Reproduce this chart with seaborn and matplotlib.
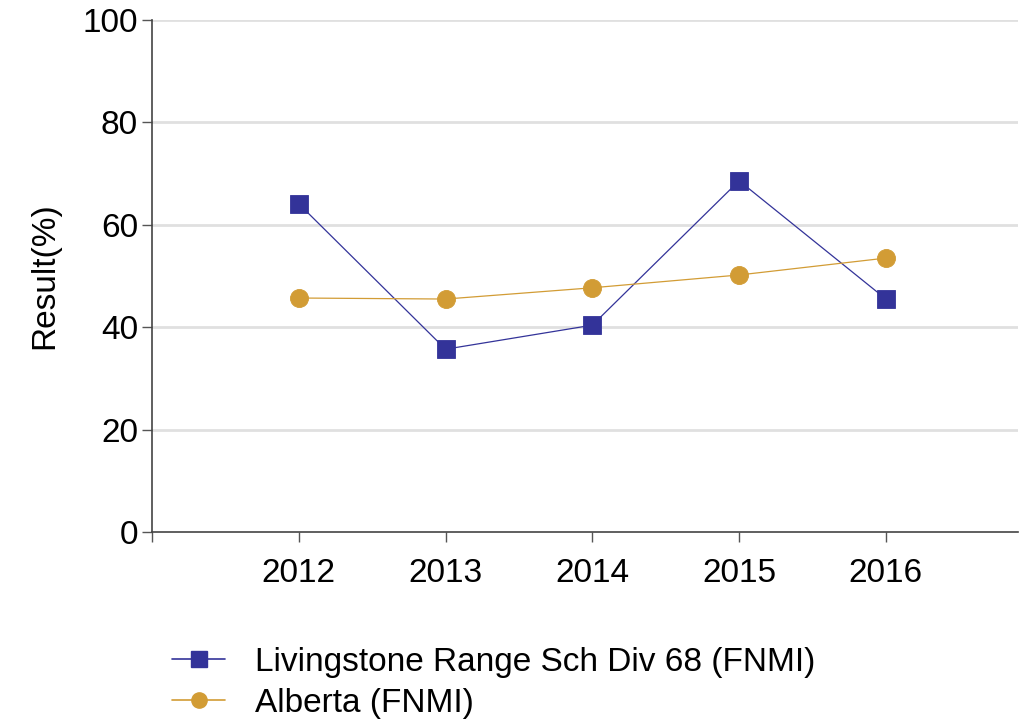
import matplotlib
matplotlib.use("Agg")
import matplotlib.pyplot as plt
import seaborn as sns
import pandas as pd

years = [2012, 2013, 2014, 2015, 2016]
livingstone = [64.1, 35.7, 40.4, 68.6, 45.5]
alberta = [45.7, 45.5, 47.7, 50.2, 53.5]
series_names = ["Livingstone Range Sch Div 68 (FNMI)", "Alberta (FNMI)"]
y_ticks = [0, 20, 40, 60, 80, 100]

df = pd.DataFrame({
    "Year": years * 2,
    "Result": livingstone + alberta,
    "Series": [series_names[0]] * len(years) + [series_names[1]] * len(years),
})

sns.set_theme(style="white")
plt.rcParams['font.family'] = ['Liberation Sans', 'DejaVu Sans']
plt.rcParams['text.color'] = 'black'

fig = plt.figure(figsize=(10.21, 7.23), dpi=100)
ax = fig.add_axes([152/1021, 1-532/723, (1018-152)/1021, (532-20)/723])

palette = {series_names[0]: "#333399", series_names[1]: "#D29C35"}
markers = {series_names[0]: "s", series_names[1]: "o"}
sns.lineplot(data=df, x="Year", y="Result", hue="Series", style="Series",
             palette=palette, markers=markers, dashes=False, markersize=13,
             linewidth=0.9, markeredgewidth=0.6, ax=ax, legend=False)
for line in ax.lines:
    line.set_markeredgecolor(line.get_color())

ax.set_ylim(0, 100)
ax.set_xlim(2011, 2016.9)
ax.set_yticks(y_ticks)
ax.set_yticklabels([str(v) for v in y_ticks], fontsize=24)
ax.set_xticks([2011] + years)
ax.set_xticklabels([""] + [str(y) for y in years], fontsize=24)
for y in y_ticks[1:]:
    ax.axhline(y, color="#E0E0E0", linewidth=2, zorder=0)
ax.tick_params(axis="both", which="both", direction="out", length=7, width=1,
               color="#555555", labelcolor="black", bottom=True, left=True)
ax.tick_params(axis="x", pad=12)
ax.tick_params(axis="y", pad=3)
for s in ["top", "right"]:
    ax.spines[s].set_visible(False)
for s in ["left", "bottom"]:
    ax.spines[s].set_color("#444444")
    ax.spines[s].set_linewidth(1.2)
ax.set_xlabel("")
ax.set_ylabel("Result(%)", fontsize=24, labelpad=16, color="black")

from matplotlib.lines import Line2D
handles = [
    Line2D([0], [0], color="#333399", marker="s", markersize=11, linewidth=1.2),
    Line2D([0], [0], color="#D29C35", marker="o", markersize=11, linewidth=1.2),
]
leg = fig.legend(handles, series_names, loc="center left",
                 bbox_to_anchor=(142/1021, 1-683/723), frameon=False, fontsize=24,
                 handlelength=1.6, handletextpad=0.9, labelspacing=0.3)
for t in leg.get_texts():
    t.set_color("black")

fig.savefig("out.png", dpi=100)
